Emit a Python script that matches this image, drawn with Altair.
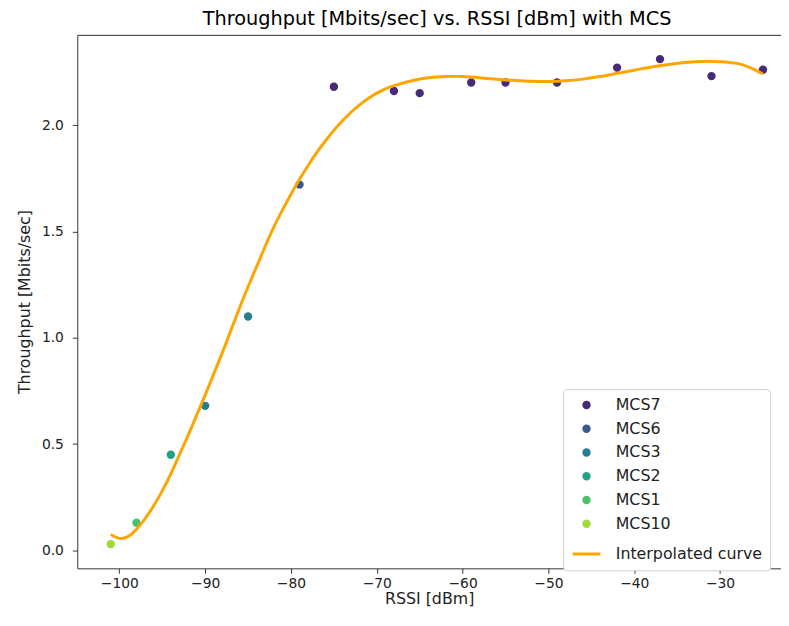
import altair as alt
import pandas as pd

# ---- data ----
mcs_order = ["MCS7", "MCS6", "MCS3", "MCS2", "MCS1", "MCS10"]
mcs_colors = ["#472a7a", "#3a5a8c", "#277f8e", "#22a187", "#4ac26d", "#a0da39"]
curve_name = "Interpolated curve"
curve_color = "#FFA500"

rssi = [-101, -98, -94, -90, -85, -79, -75, -68, -65, -59, -55, -49, -42, -37, -31, -25]
throughput = [0.03, 0.13, 0.45, 0.68, 1.10, 1.72, 2.18, 2.16, 2.15, 2.20, 2.20, 2.20, 2.27, 2.31, 2.23, 2.26]
mcs = ["MCS10", "MCS1", "MCS2", "MCS3", "MCS3", "MCS6",
       "MCS7", "MCS7", "MCS7", "MCS7", "MCS7", "MCS7", "MCS7", "MCS7", "MCS7", "MCS7"]

curve_x = [-101, -100, -99, -98, -97, -96, -95, -94, -93, -92, -91, -90, -89, -88, -87, -86,
           -85, -84, -83, -82, -81, -80, -79, -78, -77, -76, -75, -74, -73, -72, -71, -70,
           -69, -68, -66, -64, -62, -60, -58, -56, -54, -52, -50, -48, -46, -44, -42, -40,
           -38, -36, -34, -32, -30, -28, -26.5, -25]
curve_y = [0.075, 0.057, 0.065, 0.10, 0.15, 0.21, 0.28, 0.36, 0.45, 0.54, 0.635, 0.73, 0.83, 0.93,
           1.035, 1.14, 1.24, 1.335, 1.43, 1.52, 1.60, 1.675, 1.745, 1.81, 1.87, 1.925, 1.975, 2.02,
           2.06, 2.095, 2.125, 2.15, 2.17, 2.185, 2.207, 2.222, 2.228, 2.228, 2.222, 2.215, 2.21,
           2.206, 2.205, 2.208, 2.216, 2.228, 2.243, 2.258, 2.273, 2.285, 2.294, 2.299, 2.298,
           2.29, 2.27, 2.24]

x_ticks = [-100, -90, -80, -70, -60, -50, -40, -30]
y_ticks = [0.0, 0.5, 1.0, 1.5, 2.0]
x_domain = [-104.9, -22.9]
y_domain = [-0.084, 2.424]

pts = pd.DataFrame({"rssi": rssi, "throughput": throughput, "series": mcs})
crv = pd.DataFrame({"rssi": curve_x, "throughput": curve_y, "series": [curve_name] * len(curve_x)})

FONT = "DejaVu Sans"
AX = "#333333"
TXT = "#222222"

all_series = mcs_order + [curve_name]
color_scale = alt.Scale(domain=all_series, range=mcs_colors + [curve_color])
stroke_scale = alt.Scale(domain=all_series, range=mcs_colors + [curve_color])
shape_scale = alt.Scale(domain=all_series, range=["circle"] * 6 + ["stroke"])
size_scale = alt.Scale(type="ordinal", domain=all_series, range=[30] * 6 + [784])
x_scale = alt.Scale(domain=x_domain, nice=False, zero=False)
y_scale = alt.Scale(domain=y_domain, nice=False, zero=False)

legend = alt.Legend(
    title=None, orient="none", legendX=491, legendY=358,
    fillColor="white", strokeColor="#d0d0d0", cornerRadius=3, padding=8,
    labelFont=FONT, labelFontSize=16, labelColor=TXT, labelLimit=600,
    rowPadding=6, symbolOffset=0, labelOffset=14, symbolOpacity=1, symbolStrokeWidth=3,
)

points = alt.Chart(pts).mark_point(filled=True, opacity=1, strokeWidth=3).encode(
    x=alt.X("rssi:Q", scale=x_scale, title="RSSI [dBm]",
            axis=alt.Axis(values=x_ticks, grid=False, tickSize=5, labelPadding=3, titlePadding=1,
                          labelFontSize=14, titleFontSize=16, labelFont=FONT, titleFont=FONT,
                          titleFontWeight="normal", labelColor=TXT, titleColor=TXT,
                          domainColor=AX, tickColor=AX,
                          labelExpr="replace(datum.label, '-', '\u2212')")),
    y=alt.Y("throughput:Q", scale=y_scale, title="Throughput [Mbits/sec]",
            axis=alt.Axis(values=y_ticks, format=".1f", grid=False, tickSize=5, labelPadding=9,
                          titlePadding=9, labelFontSize=14, titleFontSize=16, labelFont=FONT,
                          titleFont=FONT, titleFontWeight="normal", labelColor=TXT,
                          titleColor=TXT, domainColor=AX, tickColor=AX)),
    color=alt.Color("series:N", scale=color_scale, legend=legend),
    stroke=alt.Stroke("series:N", scale=stroke_scale, legend=legend),
    shape=alt.Shape("series:N", scale=shape_scale, legend=legend),
    size=alt.Size("series:N", scale=size_scale, legend=legend),
)

line = alt.Chart(crv).mark_line(strokeWidth=3, interpolate="natural").encode(
    x=alt.X("rssi:Q", scale=x_scale,
            axis=alt.Axis(orient="top", labels=False, ticks=False, title=None, grid=False,
                          domainColor=AX)),
    y=alt.Y("throughput:Q", scale=y_scale),
    color=alt.Color("series:N", scale=color_scale, legend=None),
)

chart = alt.layer(points, line).resolve_axis(x="independent").properties(
    width=711, height=539,
    padding={"left": 70, "top": 24, "right": 0, "bottom": 43},
    autosize=alt.AutoSizeParams(type="none"),
    title=alt.Title("Throughput [Mbits/sec] vs. RSSI [dBm] with MCS", fontSize=19.5, font=FONT,
                    fontWeight="normal", anchor="middle", frame="group", offset=5, dx=8,
                    color="#000000"),
).configure_view(stroke=None)

chart.save("out.html", embed_options={"renderer": "svg", "actions": False})
